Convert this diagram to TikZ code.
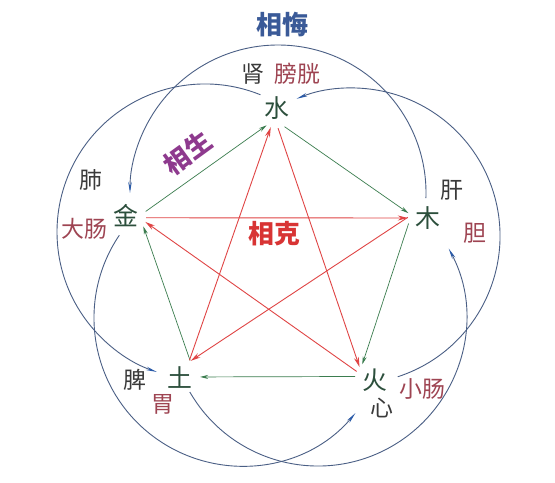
\documentclass[tikz,border=0pt]{standalone}
\usepackage{fontspec}
\newfontfamily\cjk{Noto Sans CJK SC}
\usetikzlibrary{arrows.meta}
\definecolor{elemc}{HTML}{2C4F3C}
\definecolor{zangc}{HTML}{3A3A3A}
\definecolor{fuc}{HTML}{9E4452}
\definecolor{huic}{HTML}{3A5A98}
\definecolor{shengtc}{HTML}{8E3A8E}
\definecolor{ketc}{HTML}{D83434}
\definecolor{shengc}{HTML}{3B7D4F}
\definecolor{kec}{HTML}{E04545}
\definecolor{wuc}{HTML}{4A5F85}
\definecolor{wuhead}{HTML}{2A5AA8}
\begin{document}
\begin{tikzpicture}[x=1bp,y=1bp,
  elem/.style={circle,minimum size=40bp,inner sep=0pt,font=\cjk\fontsize{25}{25}\selectfont,text=elemc},
  zang/.style={inner sep=0pt,font=\cjk\fontsize{23}{23}\selectfont,text=zangc},
  fu/.style={inner sep=0pt,font=\cjk\fontsize{23}{23}\selectfont,text=fuc},
  titlec/.style={inner sep=0pt,font=\cjk\bfseries\fontsize{26}{26}\selectfont},
  sheng/.style={draw=shengc,line width=0.7bp,-{Stealth[length=8bp,width=4bp]}},
  ke/.style={draw=kec,line width=0.9bp,-{Stealth[length=10bp,width=5bp]}},
  wu/.style={draw=wuc,line width=0.9bp,-{Stealth[length=11bp,width=3.5bp,color=wuhead]}}
]
\useasboundingbox[fill=white] (0,0) rectangle (555,-483);

% elements
\node[elem] (shui) at (277,-108) {水};
\node[elem] (mu)   at (428,-218) {木};
\node[elem] (huo)  at (375,-380) {火};
\node[elem] (tu)   at (180,-378) {土};
\node[elem] (jin)  at (126,-216) {金};

% circle centres for the reverse-restraint arcs
\coordinate (cS) at (278,-193);
\coordinate (cM) at (352,-236);
\coordinate (cH) at (318,-318);
\coordinate (cT) at (242,-318);
\coordinate (cJ) at (205,-232);

% 相侮 arcs
\draw[wu] (cS) ++(-2:148bp)  arc[start angle=-2,  end angle=180, radius=148bp];
\draw[wu] (cM) ++(-72:148bp) arc[start angle=-72, end angle=112, radius=148bp];
\draw[wu] (cH) ++(210:148bp) arc[start angle=210, end angle=388, radius=148bp];
\draw[wu] (cT) ++(146:148bp) arc[start angle=146, end angle=320, radius=148bp];
\draw[wu] (cJ) ++(68:148bp)  arc[start angle=68,  end angle=251, radius=148bp];

% 相生 (green)
\draw[sheng] (jin.13) -- (shui.-121);
\draw[sheng] (shui.-68) -- (mu.166);
\draw[sheng] (mu.-164) -- (huo.129);
\draw[sheng] (huo.170) -- (tu.3);
\draw[sheng] (tu.60) -- (jin.-31);

% 相克 (red)
\draw[ke] (jin.-5) -- (mu.180);
\draw[ke] (mu.178) -- (tu.58);
\draw[ke] (tu.62) -- (shui.-108);
\draw[ke] (shui.-87) -- (huo.140);
\draw[ke] (huo.155) -- (jin.-17);

% titles
\node[titlec,text=huic] (xianghui) at (282,-25) {相悔};
\node[titlec,text=shengtc,rotate=36] (xiangsheng) at (188,-153) {相生};
\node[titlec,text=ketc] (xiangke) at (274,-234) {相克};

% organs
\node[zang] (shen) at (253,-74) {肾};
\node[fu] (pangguang) at (297,-74) {膀胱};
\node[zang] (fei) at (91,-180) {肺};
\node[fu] (dachang) at (84,-229) {大肠};
\node[zang] (gan) at (452,-190) {肝};
\node[fu] (dan) at (475,-233) {胆};
\node[zang] (pi) at (135,-380) {脾};
\node[fu] (wei) at (163,-404) {胃};
\node[zang] (xin) at (382,-408) {心};
\node[fu] (xiaochang) at (422,-389) {小肠};
\end{tikzpicture}
\end{document}
